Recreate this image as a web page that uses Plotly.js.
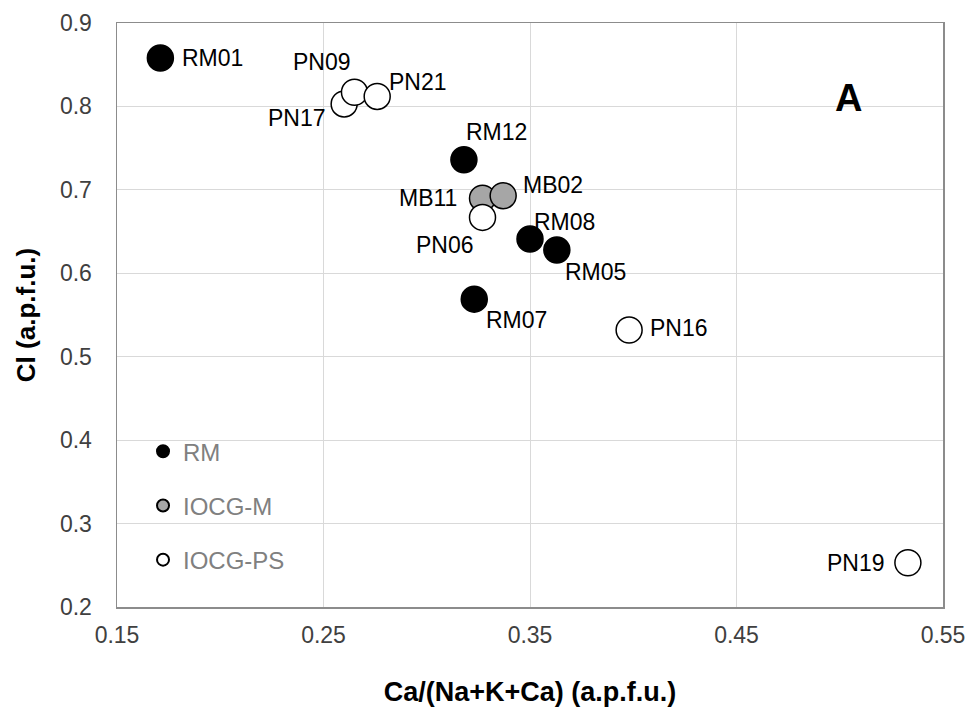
<!DOCTYPE html>
<html>
<head>
<meta charset="utf-8">
<script src="https://cdn.plot.ly/plotly-3.0.1.min.js"></script>
<style>html,body{margin:0;padding:0;background:#fff;}#chart{width:973px;height:707px;}</style>
</head>
<body>
<div id="chart"></div>
<script>
// ---- data ----
var rmNames = ['RM01', 'RM12', 'RM08', 'RM05', 'RM07'];
var rmX = [0.171, 0.318, 0.350, 0.363, 0.323];
var rmY = [0.858, 0.736, 0.641, 0.628, 0.569];

var mNames = ['MB11', 'MB02'];
var mX = [0.327, 0.337];
var mY = [0.690, 0.693];

var psNames = ['PN17', 'PN09', 'PN21', 'PN06', 'PN16', 'PN19'];
var psX = [0.260, 0.265, 0.276, 0.327, 0.398, 0.533];
var psY = [0.803, 0.817, 0.812, 0.667, 0.532, 0.253];

var xTicks = [0.15, 0.25, 0.35, 0.45, 0.55];
var yTicks = [0.2, 0.3, 0.4, 0.5, 0.6, 0.7, 0.8, 0.9];

// ---- label placement (pixel offsets from each point) ----
var labelShift = {
  RM01: [52, 0], RM12: [33, 28], RM08: [34, 17], RM05: [39, -22], RM07: [42, -21],
  MB11: [-55, 0], MB02: [50, 11],
  PN17: [-47, -14], PN09: [-32, 30], PN21: [41, 14], PN06: [-38, -28], PN16: [50, 2], PN19: [-52, 0]
};

var FONT = 'Liberation Sans, Arial, sans-serif';

function mk(name, xs, ys, fill, group) {
  return {
    type: 'scatter', mode: 'markers', name: name, x: xs, y: ys,
    legendgroup: group, hoverinfo: 'skip',
    marker: { size: 26, color: fill, line: { color: '#000', width: 1.5 } }
  };
}

var traces = [
  mk('RM', rmX, rmY, '#000000', 'g1'),
  mk('IOCG-M', mX, mY, '#a6a6a6', 'g2'),
  mk('IOCG-PS', psX, psY, '#ffffff', 'g3')
];

var annotations = [];
function addLabels(names, xs, ys) {
  for (var i = 0; i < names.length; i++) {
    var s = labelShift[names[i]] || [0, 0];
    annotations.push({
      x: xs[i], y: ys[i], xref: 'x', yref: 'y', text: names[i], showarrow: false,
      xanchor: 'center', yanchor: 'middle',
      xshift: s[0], yshift: s[1],
      font: { family: FONT, size: 23, color: '#000' }
    });
  }
}
addLabels(rmNames, rmX, rmY);
addLabels(mNames, mX, mY);
addLabels(psNames, psX, psY);

annotations.push({
  xref: 'paper', yref: 'paper', x: 0.885, y: 0.872, xanchor: 'center', yanchor: 'middle',
  text: '<b>A</b>', showarrow: false,
  font: { family: FONT, size: 38, color: '#000' }
});

var layout = {
  width: 973, height: 707,
  margin: { l: 117, r: 30, t: 23, b: 100 },
  paper_bgcolor: '#fff', plot_bgcolor: '#fff',
  showlegend: true,
  legend: {
    x: 0.0315, y: 0.3045, xanchor: 'left', yanchor: 'top',
    bgcolor: 'rgba(0,0,0,0)', tracegroupgap: 20, itemsizing: 'constant',
    font: { family: FONT, size: 24, color: '#808080' }
  },
  xaxis: {
    range: [0.15, 0.55], tickvals: xTicks, ticktext: xTicks.map(function (v) { return v.toFixed(2); }),
    showgrid: true, gridcolor: '#d9d9d9', gridwidth: 1, zeroline: false,
    showline: true, mirror: true, linecolor: '#8c8c8c', linewidth: 1.5,
    ticks: 'outside', ticklen: 0, ticklabelstandoff: 7,
    tickfont: { family: FONT, size: 23, color: '#404040' },
    title: { text: '<b>Ca/(Na+K+Ca) (a.p.f.u.)</b>', standoff: 35, font: { family: FONT, size: 27, color: '#000' } }
  },
  yaxis: {
    range: [0.2, 0.9], tickvals: yTicks, ticktext: yTicks.map(function (v) { return v.toFixed(1); }),
    showgrid: true, gridcolor: '#d9d9d9', gridwidth: 1, zeroline: false,
    showline: true, mirror: true, linecolor: '#8c8c8c', linewidth: 1.5,
    ticks: 'outside', ticklen: 0, ticklabelstandoff: 19,
    tickfont: { family: FONT, size: 23, color: '#404040' },
    title: { text: '<b>Cl (a.p.f.u.)</b>', standoff: 17, font: { family: FONT, size: 26, color: '#000' } }
  },
  annotations: annotations
};

Plotly.newPlot('chart', traces, layout, { staticPlot: true, displayModeBar: false });
</script>
</body>
</html>
